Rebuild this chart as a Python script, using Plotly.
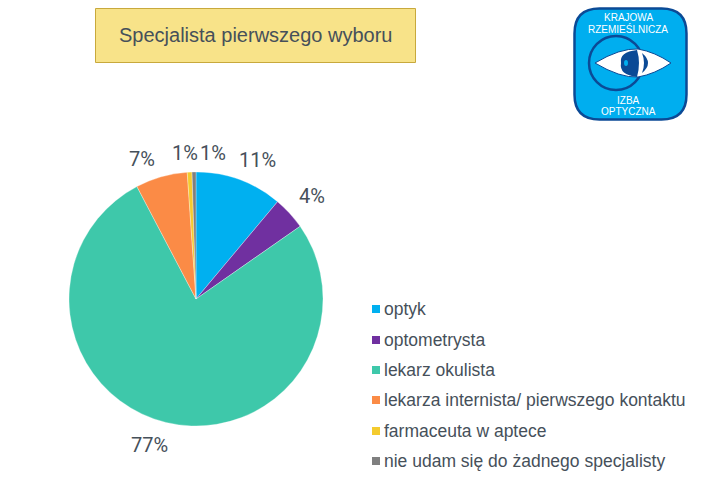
import plotly.graph_objects as go

W, H = 712, 502
categories = ["optyk", "optometrysta", "lekarz okulista",
              "lekarza internista/ pierwszego kontaktu",
              "farmaceuta w aptece", "nie udam się do żadnego specjalisty"]
values = [11.1, 4.2, 77.0, 6.6, 0.6, 0.5]
percent_labels = ["11%", "4%", "77%", "7%", "1%", "1%"]
colors = ["#00B0F0", "#7030A0", "#3EC8AA", "#FB8B46", "#F4CB2E", "#7F7F7F"]
title_text = "Specjalista pierwszego wyboru"
logo_lines = ["KRAJOWA", "RZEMIEŚLNICZA", "IZBA", "OPTYCZNA"]
logo_line_y = [18, 29, 100, 111]
legend_row_y = [309, 340, 370, 400, 431, 461]
label_pos = [(257, 160), (312, 196), (149, 445), (142, 159), (185, 153), (213, 153)]
TEXT = "#46505A"
LOGO_BLUE, LOGO_DARK = "#00AEEF", "#0B4A96"

def px(x): return x / W
def py(y): return 1 - y / H
def P(*pts):
    return " ".join(f"{px(p[0]):.5f},{py(p[1]):.5f}" for p in pts)

fig = go.Figure(go.Pie(
    labels=categories, values=values, sort=False, direction="clockwise", rotation=0,
    marker=dict(colors=colors, line=dict(color="rgba(255,255,255,0.6)", width=0.5)),
    textinfo="none",
    domain=dict(x=[px(69), px(323)], y=[py(426), py(172)]),
    hoverinfo="label+percent", showlegend=False,
))

shapes = [
    dict(type="rect", xref="paper", yref="paper", x0=px(95.5), x1=px(415.5), y0=py(62.5), y1=py(8.5),
         fillcolor="#F8E389", line=dict(color="#C8A93C", width=1)),
]
r = 25; L, R, T, B = 574.5, 686.5, 8.5, 119.5
shapes.append(dict(type="path", xref="paper", yref="paper",
    path=f"M {P((L+r,T))} L {P((R-r,T))} Q {P((R,T))} {P((R,T+r))} L {P((R,B-r))} Q {P((R,B))} {P((R-r,B))} "
         f"L {P((L+r,B))} Q {P((L,B))} {P((L,B-r))} L {P((L,T+r))} Q {P((L,T))} {P((L+r,T))} Z",
    fillcolor=LOGO_BLUE, line=dict(color=LOGO_DARK, width=2.5)))
shapes.append(dict(type="circle", xref="paper", yref="paper", x0=px(589), x1=px(643), y0=py(90), y1=py(36),
    fillcolor="rgba(0,0,0,0)", line=dict(color=LOGO_DARK, width=2.5)))
shapes.append(dict(type="path", xref="paper", yref="paper",
    path=f"M {P((595,63))} Q {P((620,48))} {P((638,49))} Q {P((655,52))} {P((671,63))} Q {P((655,74))} {P((638,77))} Q {P((620,78))} {P((595,63))} Z",
    fillcolor="white", line=dict(color=LOGO_DARK, width=1)))
shapes.append(dict(type="path", xref="paper", yref="paper",
    path=f"M {P((637,50))} Q {P((619,52))} {P((621,63))} Q {P((619,75))} {P((637,77))} Q {P((641,63))} {P((637,50))} Z",
    fillcolor=LOGO_DARK, line=dict(width=0)))
shapes.append(dict(type="path", xref="paper", yref="paper",
    path=f"M {P((642,53))} Q {P((654,63))} {P((642,73))} Q {P((646,63))} {P((642,53))} Z",
    fillcolor=LOGO_DARK, line=dict(width=0)))
shapes.append(dict(type="circle", xref="paper", yref="paper", x0=px(624), x1=px(628), y0=py(66), y1=py(60),
    fillcolor=LOGO_BLUE, line=dict(width=0)))

annotations = [dict(text=title_text, x=px(255), y=py(35), xref="paper", yref="paper", showarrow=False,
                    xanchor="center", yanchor="middle",
                    font=dict(family="Liberation Sans", size=20, color=TEXT))]
for t, y in zip(logo_lines, logo_line_y):
    annotations.append(dict(text=t, x=px(628), y=py(y), xref="paper", yref="paper", showarrow=False,
                            xanchor="center", yanchor="middle",
                            font=dict(family="Liberation Sans", size=10, color="white")))
for t, (x, y) in zip(percent_labels, label_pos):
    annotations.append(dict(text=t, x=px(x), y=py(y), xref="paper", yref="paper", showarrow=False,
                            xanchor="center", yanchor="middle",
                            font=dict(family="Roboto", size=20, color=TEXT)))
for cat, col, y in zip(categories, colors, legend_row_y):
    shapes.append(dict(type="rect", xref="paper", yref="paper", x0=px(372), x1=px(380), y0=py(y+4), y1=py(y-4),
                       fillcolor=col, line=dict(width=0)))
    annotations.append(dict(text=cat, x=px(382), y=py(y), xref="paper", yref="paper", showarrow=False,
                            xanchor="left", yanchor="middle",
                            font=dict(family="Liberation Sans", size=17.5, color=TEXT)))

fig.update_layout(width=W, height=H, margin=dict(l=0, r=0, t=0, b=0), paper_bgcolor="white",
                  shapes=shapes, annotations=annotations, showlegend=False)
fig.write_html("out.html", post_script="document.body.style.margin='0';",
               config=dict(displayModeBar=False))
